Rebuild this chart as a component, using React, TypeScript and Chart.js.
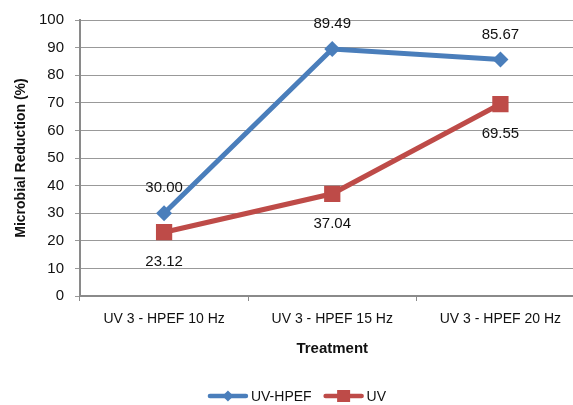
import React, { useEffect, useRef } from 'react';
import { Chart, registerables } from 'chart.js';
Chart.register(...registerables);

const categories = ['UV 3 - HPEF 10 Hz', 'UV 3 - HPEF 15 Hz', 'UV 3 - HPEF 20 Hz'];
const uvHpefValues = [30.0, 89.49, 85.67];
const uvValues = [23.12, 37.04, 69.55];
const seriesNames = ['UV-HPEF', 'UV'];
const yTitle = 'Microbial Reduction (%)';
const xTitle = 'Treatment';
const yMin = 0;
const yMax = 100;
const yStep = 10;

const BLUE = '#4A7EBB';
const RED = '#BE4B48';
const FONT = "'Liberation Sans', Arial, sans-serif";

const dataLabelPlugin = {
  id: 'dataLabels',
  afterDatasetsDraw(chart: any) {
    const ctx = chart.ctx;
    ctx.save();
    ctx.font = `15px ${FONT}`;
    ctx.fillStyle = '#111';
    ctx.textAlign = 'center';
    ctx.textBaseline = 'middle';
    chart.data.datasets.forEach((ds: any, i: number) => {
      const meta = chart.getDatasetMeta(i);
      meta.data.forEach((pt: any, j: number) => {
        const off = i === 0 ? -25 : 30;
        ctx.fillText(Number(ds.data[j]).toFixed(2), pt.x, pt.y + off);
      });
    });
    ctx.restore();
  },
};

const legendPlugin = {
  id: 'customLegend',
  afterDraw(chart: any) {
    const ctx = chart.ctx;
    ctx.save();
    ctx.font = `14px ${FONT}`;
    const lineW = 40;
    const gapT = 3;
    const gapItems = 12;
    const items = chart.data.datasets.map((ds: any) => ({
      label: ds.label,
      color: ds.borderColor,
      style: ds.pointStyle,
      w: lineW + gapT + ctx.measureText(ds.label).width,
    }));
    const total = items.reduce((a: number, it: any) => a + it.w, 0) + gapItems * (items.length - 1);
    let x = 297 - total / 2;
    const y = 396;
    items.forEach((it: any) => {
      ctx.strokeStyle = it.color;
      ctx.fillStyle = it.color;
      ctx.lineWidth = 4.5;
      ctx.lineCap = 'round';
      ctx.beginPath();
      ctx.moveTo(x + 2, y);
      ctx.lineTo(x + lineW - 2, y);
      ctx.stroke();
      const cx = x + lineW / 2;
      ctx.beginPath();
      if (it.style === 'rectRot') {
        const r = 5.5;
        ctx.moveTo(cx, y - r);
        ctx.lineTo(cx + r, y);
        ctx.lineTo(cx, y + r);
        ctx.lineTo(cx - r, y);
        ctx.closePath();
      } else {
        ctx.rect(cx - 6.5, y - 6, 13, 12);
      }
      ctx.fill();
      ctx.fillStyle = '#111';
      ctx.textAlign = 'left';
      ctx.textBaseline = 'middle';
      ctx.fillText(it.label, x + lineW + gapT, y + 1);
      x += it.w + gapItems;
    });
    ctx.restore();
  },
};

export default function App() {
  const ref = useRef<HTMLCanvasElement>(null);
  useEffect(() => {
    if (!ref.current) return;
    const chart = new Chart(ref.current, {
      type: 'line',
      data: {
        labels: categories,
        datasets: [
          {
            label: seriesNames[0],
            data: uvHpefValues,
            borderColor: BLUE,
            backgroundColor: BLUE,
            borderWidth: 5,
            pointStyle: 'rectRot',
            pointRadius: 8,
            pointHoverRadius: 8,
            pointBorderWidth: 0,
            tension: 0,
          },
          {
            label: seriesNames[1],
            data: uvValues,
            borderColor: RED,
            backgroundColor: RED,
            borderWidth: 5,
            pointStyle: 'rect',
            pointRadius: 11.5,
            pointHoverRadius: 11.5,
            pointBorderWidth: 0,
            tension: 0,
          },
        ],
      },
      options: {
        responsive: false,
        animation: false,
        devicePixelRatio: 1,
        layout: { padding: { top: 18, left: 0, right: 6, bottom: 39 } },
        plugins: {
          legend: { display: false },
          tooltip: { enabled: false },
        },
        scales: {
          x: {
            type: 'category',
            offset: true,
            grid: {
              offset: true,
              drawOnChartArea: false,
              drawTicks: true,
              tickLength: 5,
              color: '#8a8a8a',
              lineWidth: 1,
            },
            border: { display: true, color: '#8a8a8a', width: 2 },
            ticks: {
              padding: 10,
              color: '#111',
              font: { family: FONT, size: 14 },
              maxRotation: 0,
              autoSkip: false,
            },
            title: {
              display: true,
              text: xTitle,
              color: '#111',
              font: { family: FONT, size: 15, weight: 'bold' },
              padding: { top: 0, bottom: 8 },
            },
            afterFit(scale: any) {
              scale.height = 70;
            },
          },
          y: {
            min: yMin,
            max: yMax,
            grid: {
              color: '#999',
              lineWidth: 1,
              drawTicks: true,
              tickLength: 5,
            },
            border: { display: true, color: '#8a8a8a', width: 2 },
            ticks: {
              stepSize: yStep,
              padding: 11,
              color: '#111',
              font: { family: FONT, size: 15 },
            },
            title: {
              display: true,
              text: yTitle,
              color: '#111',
              font: { family: FONT, size: 14, weight: 'bold' },
              padding: { top: 13, bottom: 0 },
            },
            afterFit(scale: any) {
              scale.width = 80;
            },
          },
        },
      },
      plugins: [dataLabelPlugin, legendPlugin],
    });
    return () => chart.destroy();
  }, []);
  return (
    <div style={{ position: 'absolute', left: 0, top: 0, width: 573, height: 405, overflow: 'hidden', background: '#fff' }}>
      <canvas ref={ref} width={596} height={405} style={{ display: 'block' }} />
    </div>
  );
}
